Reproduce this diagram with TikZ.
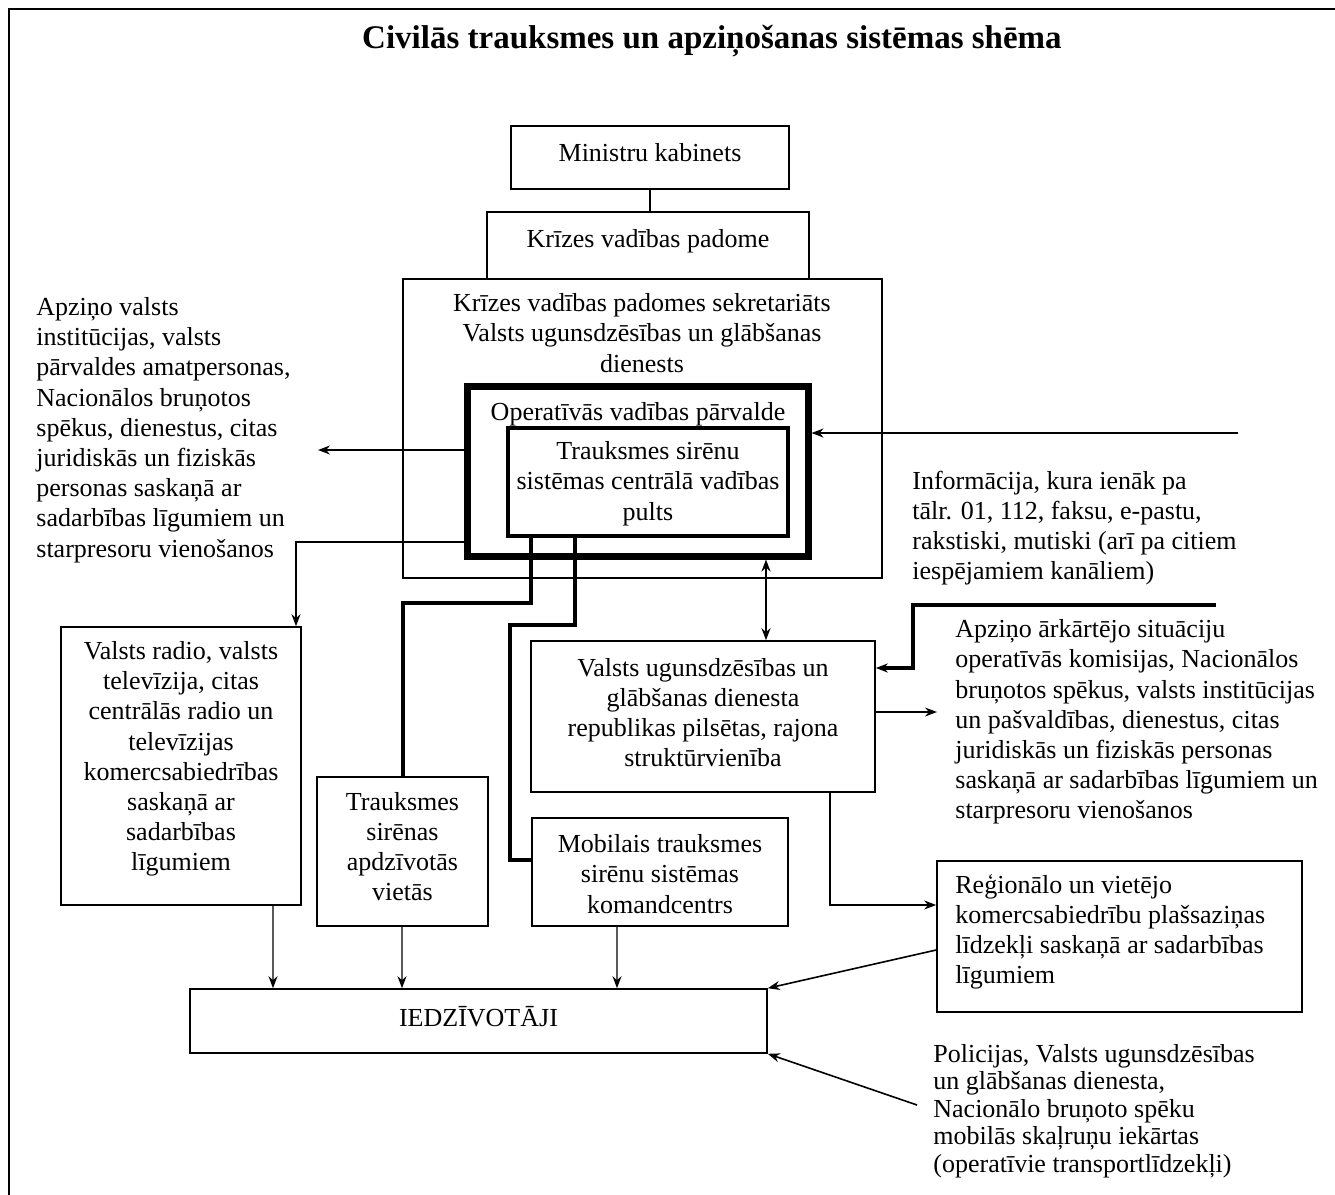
\documentclass[tikz,border=0pt]{standalone}
\usepackage{fontspec}
\setmainfont{Liberation Serif}
\usetikzlibrary{arrows.meta,calc}
\newcommand\dfont{\fontsize{13}{15.1}\selectfont}
\begin{document}
\begin{tikzpicture}[x=0.5pt,y=-0.5pt,
  box/.style={draw, line width=0.8pt, inner sep=0pt, align=center, font=\dfont},
  txt/.style={inner sep=0pt, font=\dfont},
  lab/.style={inner sep=0pt, font=\dfont, align=center, yshift=#1},
  arr/.style={-{Stealth[length=6pt,width=4.5pt]}},
  conn/.style={line width=0.8pt},
  heavy/.style={line width=2pt},
  downarr/.style={line width=0.8pt, draw=black!65, -{Stealth[length=6pt,width=4.5pt,color=black]}}
]
\useasboundingbox (0,0) rectangle (1335,1195);
\fill[white] (0,0) rectangle (1335,1195);
\draw[line width=1pt] (9,1195) -- (9,9) -- (1340,9);

\node[inner sep=0pt, font=\fontsize{16.5}{20}\selectfont\bfseries] (title) at (712,41)
  {Civilās trauksmes un apziņošanas sistēmas shēma};

% boxes
\node[box, minimum width=139pt, minimum height=31.5pt,
  label={[lab=2.5pt]center:Ministru kabinets}] (mk) at (650,157.5) {};
\node[box, minimum width=161pt, minimum height=33.5pt,
  label={[lab=2pt]center:Krīzes vadības padome}] (kvp) at (648,245.5) {};
\node[box, minimum width=239.5pt, minimum height=149.5pt] (sec) at (642.5,428.5) {};
\node[txt, align=center] (sectext) at (642,333)
  {Krīzes vadības padomes sekretariāts\\Valsts ugunsdzēsības un glābšanas\\dienests};
\node[draw, line width=3.5pt, inner sep=0pt, minimum width=170.5pt, minimum height=85pt] (ovp) at (637.5,471) {};
\node[txt] (ovptext) at (638,414) {Operatīvās vadības pārvalde};
\node[box, line width=1.75pt, minimum width=140pt, minimum height=54pt,
  label={[lab=-0.8pt]center:{Trauksmes sirēnu\\sistēmas centrālā vadības\\pults}}] (pult) at (648,482) {};

\node[box, minimum width=120pt, minimum height=139pt,
  label={[lab=3.5pt]center:{Valsts radio, valsts\\televīzija, citas\\centrālās radio un\\televīzijas\\komercsabiedrības\\saskaņā ar\\sadarbības\\līgumiem}}] (radio) at (181,766) {};
\node[box, minimum width=85.5pt, minimum height=74.5pt,
  label={[lab=2.5pt]center:{Trauksmes\\sirēnas\\apdzīvotās\\vietās}}] (sir) at (402.5,851.5) {};
\node[box, minimum width=128pt, minimum height=54pt,
  label={[lab=-1pt]center:{Mobilais trauksmes\\sirēnu sistēmas\\komandcentrs}}] (mob) at (660,872) {};
\node[box, minimum width=172pt, minimum height=75.5pt,
  label={[lab=2pt]center:{Valsts ugunsdzēsības un\\glābšanas dienesta\\republikas pilsētas, rajona\\struktūrvienība}}] (vug) at (703,716.5) {};
\node[box, minimum width=182.5pt, minimum height=75.5pt] (reg) at (1119.5,936.5) {};
\node[txt, align=left, anchor=west] (regtext) at (955,932)
  {Reģionālo un vietējo\\komercsabiedrību plašsaziņas\\līdzekļi saskaņā ar sadarbības\\līgumiem};
\node[box, minimum width=288.5pt, minimum height=32pt,
  label={[lab=2pt]center:IEDZĪVOTĀJI}] (iedz) at (478.5,1021) {};

% free texts
\node[txt, align=left, anchor=west] (left) at (36,430)
  {Apziņo valsts\\institūcijas, valsts\\pārvaldes amatpersonas,\\Nacionālos bruņotos\\spēkus, dienestus, citas\\juridiskās un fiziskās\\personas saskaņā ar\\sadarbības līgumiem un\\starpresoru vienošanos};
\node[txt, align=left, anchor=west] (info) at (912,528)
  {Informācija, kura ienāk pa\\tālr. 01, 112, faksu, e-pastu,\\rakstiski, mutiski (arī pa citiem\\iespējamiem kanāliem)};
\node[txt, align=left, anchor=west] (apz) at (955,722)
  {Apziņo ārkārtējo situāciju\\operatīvās komisijas, Nacionālos\\bruņotos spēkus, valsts institūcijas\\un pašvaldības, dienestus, citas\\juridiskās un fiziskās personas\\saskaņā ar sadarbības līgumiem un\\starpresoru vienošanos};
\node[inner sep=0pt, font=\fontsize{13}{13.8}\selectfont, align=left, anchor=west] (pol) at (933,1111)
  {Policijas, Valsts ugunsdzēsības\\un glābšanas dienesta,\\Nacionālo bruņoto spēku\\mobilās skaļruņu iekārtas\\(operatīvie transportlīdzekļi)};

% coordinates
\coordinate (la) at (318,450);
\coordinate (rj) at (296,542);
\coordinate (p1) at (531,603);
\coordinate (q1) at (575,625);
\coordinate (q2) at (510,860);
\coordinate (d) at (766,600);
\coordinate (ri) at (1238,433);
\coordinate (t1) at (1216,605);
\coordinate (t2) at (913,668);
\coordinate (va) at (937,712);
\coordinate (vr) at (830,905);
\coordinate (rg) at (937,950);
\coordinate (pp) at (917,1105);
\coordinate (g1) at (273,950);
\coordinate (g2) at (402,950);
\coordinate (g3) at (617,950);

% connectors
\draw[conn] (mk.south) -- (mk.south |- kvp.north);
\draw[conn, arr] (ovp.west |- la) -- (la);
\draw[conn, arr] (ovp.west |- rj) -| (radio.north -| rj);
\draw[heavy] (pult.south -| p1) -- (p1) -- (p1 -| sir.north) -- (sir.north);
\draw[heavy] (pult.south -| q1) -- (q1) -- (q1 -| q2) -- (q2) -- (q2 -| mob.west);
\draw[line width=1pt, {Stealth[length=6pt,width=4.5pt]}-{Stealth[length=6pt,width=4.5pt]}] (ovp.south -| d) -- (vug.north -| d);
\draw[line width=1pt, arr] (ri) -- (ovp.east |- ri);
\draw[heavy, arr] (t1) -- (t1 -| t2) -- (t2) -- (vug.east |- t2);
\draw[conn, arr] (vug.east |- va) -- (va);
\draw[conn, arr] (vug.south -| vr) -- (vr) -- (reg.west |- vr);
\draw[conn, arr] (reg.west |- rg) -- (iedz.north east);
\draw[conn, arr] (pp) -- (iedz.south east);
\draw[downarr] (radio.south -| g1) -- (iedz.north -| g1);
\draw[downarr] (sir.south -| g2) -- (iedz.north -| g2);
\draw[downarr] (mob.south -| g3) -- (iedz.north -| g3);
\end{tikzpicture}
\end{document}
